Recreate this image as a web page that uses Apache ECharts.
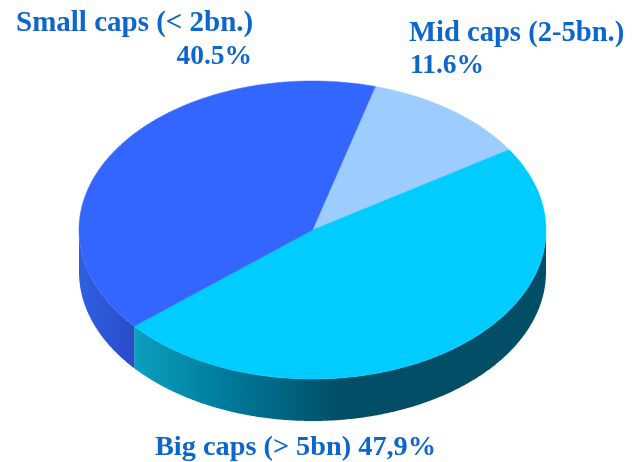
<!DOCTYPE html>
<html>
<head>
<meta charset="utf-8">
<style>html,body{margin:0;padding:0;background:#fff}#chart{width:639px;height:462px}</style>
<script src="https://cdn.jsdelivr.net/npm/echarts@6/dist/echarts.min.js"></script>
</head>
<body>
<div id="chart"></div>
<script>
// Market-cap split of the portfolio, clockwise from the first slice.
const categories = ['Mid caps (2-5bn.)', 'Big caps (> 5bn)', 'Small caps (< 2bn.)'];
const shares = [11.6, 47.9, 40.5];
const shareLabels = ['11.6%', '47,9%', '40.5%'];

const firstSliceAngle = 15.6;
const topColors = ['#9dcdff', '#00ccff', '#3366ff'];
const textColor = '#0d66cc';

// Ellipse of the pie's top face and the height of its side wall.
const disc = { cx: 312.5, cy: 230, rx: 233.5, ry: 149, depth: 42 };

const wallFills = [
  '#7aa0d0',
  { type: 'linear', global: true, x: 134, y: 0, x2: 340, y2: 0, colorStops: [
    { offset: 0, color: '#0b9fbf' },
    { offset: 0.45, color: '#007a9c' },
    { offset: 1, color: '#024e66' }
  ] },
  { type: 'linear', global: true, x: 79, y: 0, x2: 134, y2: 0, colorStops: [
    { offset: 0, color: '#2f60e2' },
    { offset: 1, color: '#2a4cc8' }
  ] }
];

// Cumulative [start, end] angle of each slice, in degrees clockwise from 12 o'clock.
let running = firstSliceAngle;
const total = shares.reduce((a, b) => a + b, 0);
const sliceAngles = shares.map((s) => {
  const start = running;
  running += (s / total) * 360;
  return [start, running];
});

function rim(deg, drop) {
  const r = (deg * Math.PI) / 180;
  return [disc.cx + disc.rx * Math.sin(r), disc.cy - disc.ry * Math.cos(r) + drop];
}
function arc(from, to, drop) {
  const pts = [];
  const n = Math.max(2, Math.ceil(Math.abs(to - from) * 2));
  for (let i = 0; i <= n; i++) pts.push(rim(from + ((to - from) * i) / n, drop));
  return pts;
}

// The wall is only visible along the front half of the ellipse (90 to 270 degrees).
function renderWall(params, api) {
  const from = Math.max(api.value(0), 90);
  const to = Math.min(api.value(1), 270);
  if (to <= from) return { type: 'group', children: [] };
  return {
    type: 'polygon',
    shape: { points: arc(from, to, 0).concat(arc(to, from, disc.depth)) },
    style: { fill: wallFills[params.dataIndex] }
  };
}
function renderTop(params, api) {
  const color = topColors[params.dataIndex];
  return {
    type: 'polygon',
    shape: { points: [[disc.cx, disc.cy]].concat(arc(api.value(0), api.value(1), 0)) },
    style: { fill: color, stroke: color, lineWidth: 0.5 }
  };
}

function caption(content, pos) {
  return {
    type: 'text',
    x: pos.x, y: pos.y,
    style: {
      text: content, fill: textColor,
      font: 'bold ' + pos.size + 'px "Liberation Serif", serif',
      textAlign: pos.align || 'left', textVerticalAlign: 'middle'
    }
  };
}

const chart = echarts.init(document.getElementById('chart'), null, { renderer: 'canvas' });
chart.setOption({
  animation: false,
  backgroundColor: '#fff',
  series: [
    { type: 'custom', coordinateSystem: 'none', silent: true, z: 1, renderItem: renderWall, data: sliceAngles },
    { type: 'custom', coordinateSystem: 'none', silent: true, z: 2, renderItem: renderTop, data: sliceAngles }
  ],
  graphic: [
    caption(categories[2], { x: 16, y: 24, size: 29 }),
    caption(shareLabels[2], { x: 252, y: 57, size: 27.5, align: 'right' }),
    caption(categories[0], { x: 409, y: 34, size: 28.6 }),
    caption(shareLabels[0], { x: 410, y: 66, size: 27.5 }),
    caption(categories[1] + ' ' + shareLabels[1], { x: 155, y: 448, size: 28.3 })
  ]
});
</script>
</body>
</html>
